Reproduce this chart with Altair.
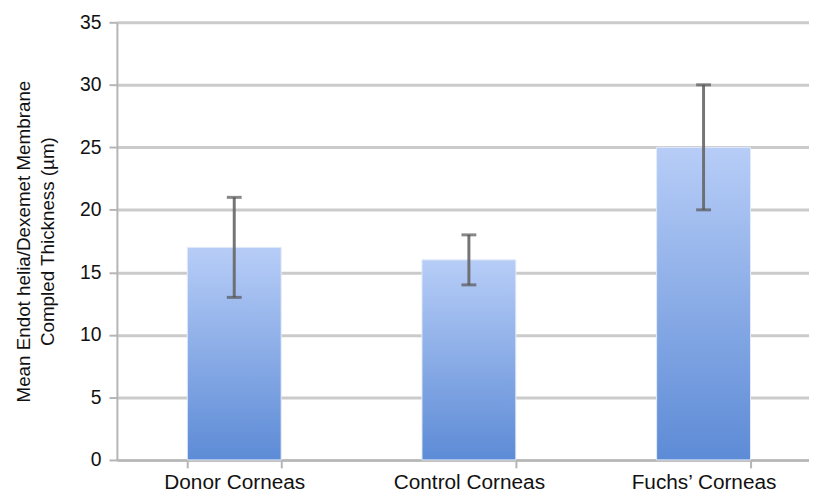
import altair as alt
import pandas as pd

categories = ["Donor Corneas", "Control Corneas", "Fuchs\u2019 Corneas"]
means = [17, 16, 25]
err_low = [13, 14, 20]
err_high = [21, 18, 30]

df = pd.DataFrame({"cat": categories, "mean": means, "lo": err_low, "hi": err_high})

FONT = "Liberation Sans"

xenc = alt.X(
    "cat:N",
    sort=categories,
    scale=alt.Scale(range=[0, 711], paddingInner=0.6, paddingOuter=0.3),
    axis=alt.Axis(
        title=None, labelAngle=0, labelFontSize=21, labelColor="#111111", labelFont=FONT,
        labelPadding=4, tickBand="extent", tickSize=8, tickColor="#b5b5b5", tickWidth=2,
        domainColor="#b5b5b5", domainWidth=2, grid=False,
    ),
)

gradient = alt.LinearGradient(
    gradient="linear",
    stops=[alt.GradientStop(color="#b7cdf7", offset=0), alt.GradientStop(color="#5d8bd6", offset=1)],
    x1=0, x2=0, y1=0, y2=1,
)

yscale = alt.Scale(domain=[0, 35])

bars = alt.Chart(df).mark_bar(fill=gradient, stroke="#e3ebf9", strokeWidth=1).encode(
    x=xenc,
    y=alt.Y(
        "mean:Q",
        scale=yscale,
        axis=alt.Axis(
            title=["Mean Endot helia/Dexemet Membrane", "Compled Thickness (\u00b5m)"],
            titleFont=FONT, titleFontSize=19, titleFontWeight="normal", titleColor="#111111",
            titleLineHeight=25, titlePadding=22,
            values=[0, 5, 10, 15, 20, 25, 30, 35],
            labelFont=FONT, labelFontSize=19.5, labelColor="#111111", labelPadding=8,
            tickSize=8, tickColor="#b5b5b5", tickWidth=2,
            domainColor="#b5b5b5", domainWidth=2,
            gridColor="#cbcbcb", gridWidth=3,
        ),
    ),
)

rules = alt.Chart(df).mark_rule(color="#666666", strokeWidth=3, opacity=0.9).encode(
    x=alt.X("cat:N", sort=categories),
    y=alt.Y("lo:Q", scale=yscale),
    y2="hi:Q",
)

caps_hi = alt.Chart(df).mark_tick(color="#555555", thickness=3, size=15).encode(
    x=alt.X("cat:N", sort=categories),
    y=alt.Y("hi:Q", scale=yscale),
)
caps_lo = alt.Chart(df).mark_tick(color="#555555", thickness=3, size=15).encode(
    x=alt.X("cat:N", sort=categories),
    y=alt.Y("lo:Q", scale=yscale),
)

chart = alt.layer(bars, rules, caps_hi, caps_lo).properties(
    width=699,
    height=442,
    autosize=alt.AutoSizeParams(type="none"),
    padding={"left": 110, "top": 12, "right": 0, "bottom": 36},
).configure_view(stroke=None).configure(background="white")

chart.save("out.html", embed_options={"renderer": "svg", "actions": False})
